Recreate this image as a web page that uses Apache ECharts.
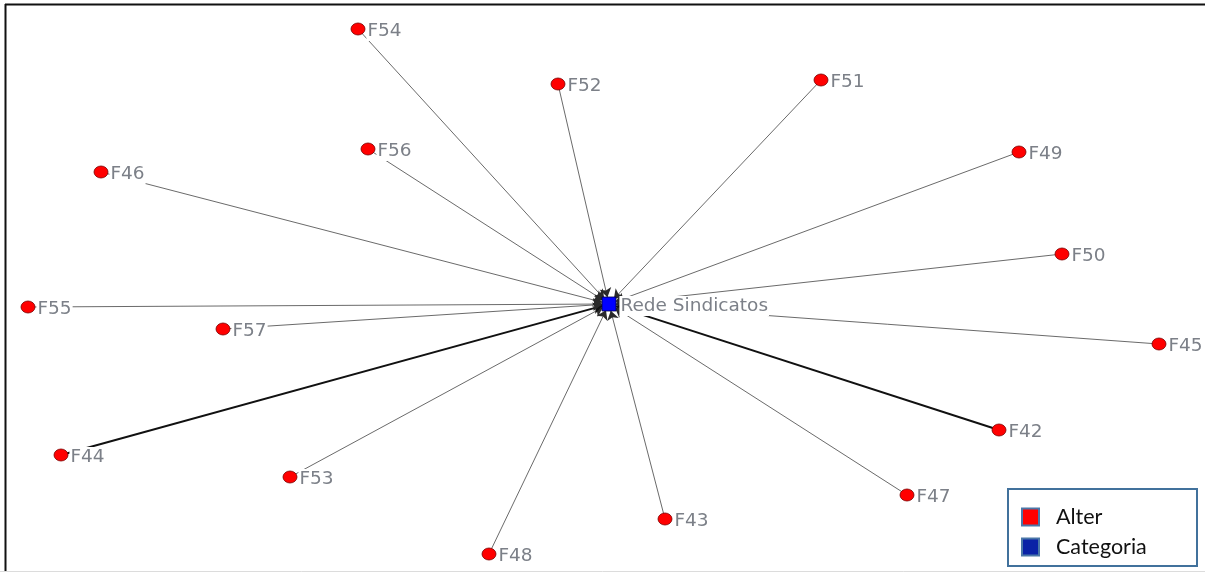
<!DOCTYPE html>
<html>
<head>
<meta charset="utf-8">
<script src="https://cdn.jsdelivr.net/npm/echarts@6/dist/echarts.min.js"></script>
<style>html,body{margin:0;padding:0;background:#fff}#c{width:1205px;height:572px}</style>
</head>
<body>
<div id="c"></div>
<script>
// Node names and positions (in the picture's own units)
const centerName = 'Rede Sindicatos';
const centerPos = [609, 304];
const alterNames = ['F54','F52','F51','F49','F50','F45','F42','F47','F43','F48','F53','F44','F57','F55','F46','F56'];
const alterX = [358, 558, 821, 1019, 1062, 1159, 999, 907, 665, 489, 290, 61, 223, 28, 101, 368];
const alterY = [29, 84, 80, 152, 254, 344, 430, 495, 519, 554, 477, 455, 329, 307, 172, 149];
// tie strength (thicker edges)
const edgeWeight = [1, 1, 1, 1, 1, 1, 2, 1, 1, 1, 1, 2, 1, 1, 1, 1];
const categoryNames = ['Alter', 'Categoria'];

const chart = echarts.init(document.getElementById('c'));

const nodes = [{
  name: centerName, value: centerPos, category: 1,
  symbol: 'rect', symbolSize: 14,
  itemStyle: { color: '#0000ff', borderColor: '#000040', borderWidth: 0.8 },
  label: { distance: 3 }
}].concat(alterNames.map((n, i) => ({
  name: n, value: [alterX[i], alterY[i]], category: 0
})));

const links = alterNames.map((n, i) => ({
  source: n, target: centerName,
  lineStyle: edgeWeight[i] > 1 ? { width: 2, color: '#111', opacity: 1 } : { width: 0.7, color: '#2a2a2a', opacity: 1 }
}));

chart.setOption({
  animation: false,
  backgroundColor: '#fff',
  grid: { left: 0, right: 0, top: 0, bottom: 0 },
  xAxis: { type: 'value', min: 0, max: 1205, show: false },
  yAxis: { type: 'value', min: 0, max: 572, inverse: true, show: false },
  legend: {
    orient: 'vertical',
    left: 1016, top: 501,
    z: 20,
    itemWidth: 17, itemHeight: 17, itemGap: 8,
    icon: 'rect',
    textStyle: { fontFamily: 'Lato', fontSize: 21.5, color: '#111', padding: [0, 0, 0, 12] },
    data: [
      { name: 'Alter', itemStyle: { color: '#ff0000', borderColor: '#4a77a8', borderWidth: 2 } },
      { name: 'Categoria', itemStyle: { color: '#0a22a6', borderColor: '#4a77a8', borderWidth: 2 } }
    ],
    selectedMode: false
  },
  graphic: [
    { type: 'line', shape: { x1: 5, y1: 4.5, x2: 1205, y2: 4.5 }, style: { stroke: '#111', lineWidth: 2 } },
    { type: 'line', shape: { x1: 5.5, y1: 4, x2: 5.5, y2: 572 }, style: { stroke: '#111', lineWidth: 2 } },
    { type: 'line', shape: { x1: 0, y1: 571.5, x2: 1205, y2: 571.5 }, style: { stroke: '#dcdcdc', lineWidth: 1 } },
    { type: 'rect', shape: { x: 1008, y: 489, width: 189, height: 77 }, style: { fill: '#fff', stroke: '#41719c', lineWidth: 2 }, z: 1 }
  ],
  series: [{
    type: 'graph',
    coordinateSystem: 'cartesian2d',
    layout: 'none',
    z: 2,
    categories: categoryNames.map((n, i) => ({
      name: n,
      itemStyle: i === 0 ? { color: '#ff0000' } : { color: '#0000ff' }
    })),
    data: nodes,
    links: links,
    symbol: 'circle',
    symbolSize: [14, 12],
    itemStyle: { color: '#ff0000', borderColor: '#7a0000', borderWidth: 0.8 },
    edgeSymbol: ['none', 'arrow'],
    edgeSymbolSize: [0, 9],
    lineStyle: { opacity: 1 },
    label: {
      show: true, position: 'right', distance: 1, offset: [0, 2],
      fontFamily: 'DejaVu Sans', fontSize: 18.5, color: '#7c8088',
      backgroundColor: '#fff', padding: [1, 1, 0, 1]
    },
    emphasis: { disabled: true }
  }]
});
</script>
</body>
</html>
